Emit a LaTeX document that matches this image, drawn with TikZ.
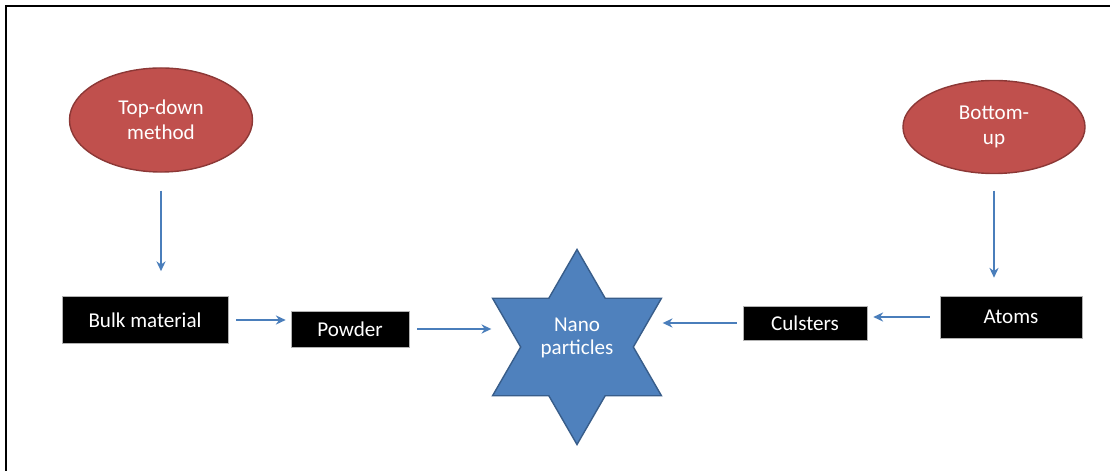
\documentclass[tikz,border=0pt]{standalone}
\usepackage{fontspec}
\setsansfont{Carlito}
\usetikzlibrary{shapes.geometric, arrows.meta, positioning}
\definecolor{ovalred}{RGB}{192, 80, 77}
\definecolor{ovaledge}{RGB}{140, 56, 54}
\definecolor{starblue}{RGB}{79, 129, 189}
\definecolor{staredge}{RGB}{56, 93, 138}
\definecolor{arrowblue}{RGB}{74, 126, 187}

\begin{document}
\begin{tikzpicture}[x=0.025cm, y=-0.025cm,
  oval/.style={ellipse, draw=ovaledge, line width=1pt, fill=ovalred, text=white, align=center, font=\sffamily\fontsize{15}{18}\selectfont, inner sep=0pt},
  blackbox/.style={draw=gray!60, line width=0.4pt, fill=black, text=white, font=\sffamily\fontsize{15}{18}\selectfont, inner sep=0pt},
  flow/.style={-{Stealth[length=7pt, width=6.5pt]}, line width=1.2pt, arrowblue}
]
  \useasboundingbox (0,0) rectangle (1110,471);
  \draw[line width=1.5pt] (6,471) -- (6,6) -- (1110,6);

  % Top-down side
  \node[oval, minimum width=4.575cm, minimum height=2.6cm] (topdown) at (161,120) {Top-down\\method};
  \node[blackbox, minimum width=4.15cm, minimum height=1.175cm] (bulk) at (145,320) {Bulk material};
  \node[blackbox, minimum width=2.95cm, minimum height=0.9cm] (powder) at (350,329) {Powder};

  % Product
  \node[star, star points=6, star point ratio=1.732, minimum size=4.875cm, inner sep=0pt,
        draw=staredge, line width=1pt, fill=starblue, text=white,
        font=\sffamily\fontsize{15}{16}\selectfont] (nano) at (577,347)
        {\raisebox{6pt}[\height][\depth]{\begin{tabular}{@{}c@{}}Nano\\particles\end{tabular}}};

  % Bottom-up side
  \node[oval, minimum width=4.55cm, minimum height=2.325cm] (bottomup) at (994,127) {Bottom-\\up};
  \node[blackbox, minimum width=3.55cm, minimum height=1.05cm] (atoms) at (1011,317) {Atoms};
  \node[blackbox, minimum width=3.1cm, minimum height=0.85cm] (culsters) at (805,323) {Culsters};

  \draw[flow, shorten <=0.45cm, shorten >=0.625cm] (topdown.south) -- (topdown.south |- bulk.north);
  \draw[flow, shorten <=0.2cm, shorten >=0.125cm] (bulk.east) -- (bulk.east -| powder.west);
  \draw[flow, shorten <=0.2cm] (powder.east) -- (powder.east -| nano.outer point 2);
  \draw[flow, shorten <=0.41cm, shorten >=0.45cm] (bottomup.south) -- (bottomup.south |- atoms.north);
  \draw[flow, shorten <=0.25cm, shorten >=0.15cm] (atoms.west) -- (atoms.west -| culsters.east);
  \draw[flow, shorten <=0.15cm] (culsters.west) -- (culsters.west -| nano.outer point 6);
\end{tikzpicture}
\end{document}
